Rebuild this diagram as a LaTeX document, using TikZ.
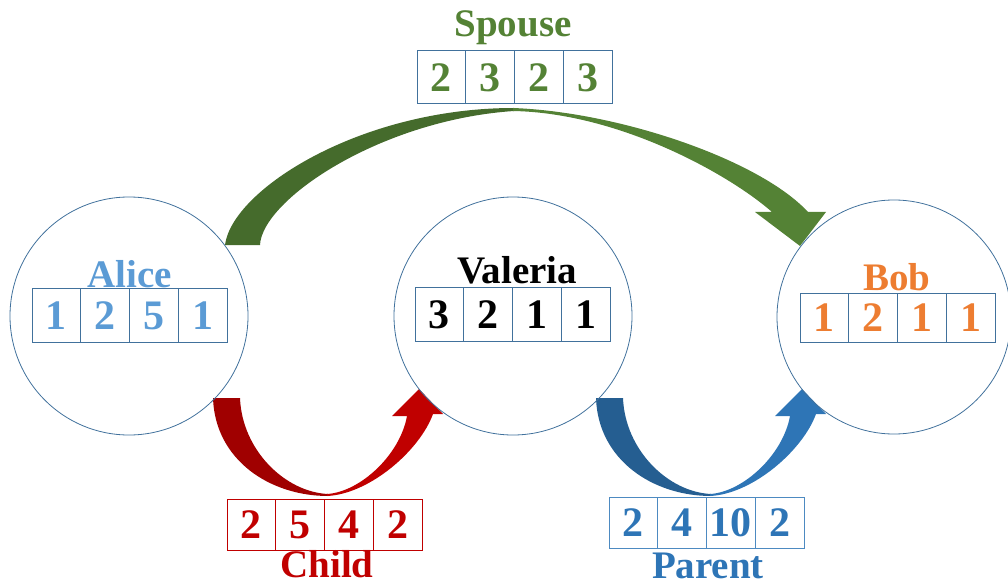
\documentclass[tikz,border=0pt]{standalone}
\usepackage{fontspec}
\setmainfont{Liberation Serif}
\usetikzlibrary{positioning}

\definecolor{outline}{HTML}{41719C}
\definecolor{alicecol}{HTML}{5B9BD5}
\definecolor{bobcol}{HTML}{ED7D31}
\definecolor{spousecol}{HTML}{548235}
\definecolor{spousedark}{HTML}{456B2C}
\definecolor{childcol}{HTML}{C00000}
\definecolor{childdark}{HTML}{A00000}
\definecolor{parentcol}{HTML}{2E75B6}
\definecolor{parentdark}{HTML}{255E91}

% curved block arrow under the circles, #1 = first half, #2 = second half
\newcommand{\bentarrow}[2]{%
  \fill[#1] (213,398) .. controls (215,460) and (270,496) .. (328,496) -- (328,494) .. controls (285,492) and (242,450) .. (240,398) -- cycle;
  \fill[#2] (327,496) .. controls (370,494) and (420,450) .. (433,414) -- (443,414) -- (419,389) -- (392,416) -- (407,416) .. controls (400,455) and (360,492) .. (327,494) -- cycle;
}

\begin{document}
\begin{tikzpicture}[x=1pt, y=-1pt,
    person/.style={circle, draw=outline, line width=0.8pt, inner sep=0},
    cell/.style={draw=outline, line width=1pt, minimum width=48.75pt, minimum height=54pt, inner sep=0, font=\bfseries\fontsize{42}{42}\selectfont},
    relname/.style={anchor=base, inner sep=0, font=\bfseries\fontsize{39}{39}\selectfont}]
        \useasboundingbox (0,0) rectangle (1008,585);

        % arrows
        \fill[spousedark] (225,245) .. controls (232,190) and (360,108) .. (514,108) -- (514,111) .. controls (380,120) and (262,200) .. (260,245) -- cycle;
        \fill[spousecol] (513,108) .. controls (620,112) and (760,160) .. (808,212) -- (826,212) -- (800,246) -- (755,212) -- (772,212) .. controls (730,175) and (620,113) .. (513,111) -- cycle;
        \bentarrow{childdark}{childcol}
        \begin{scope}[xshift=383pt]
          \bentarrow{parentdark}{parentcol}
        \end{scope}

        % people
        \node[person, minimum size=238pt] (alice) at (129,316) {};
        \node[person, minimum size=238pt] (valeria) at (513,316) {};
        \node[person, minimum size=234pt] (bob) at (894,317) {};

        \node[relname, text=alicecol] (alicename) at (130,287) {Alice};
        \node[relname] (valerianame) at (517,283) {Valeria};
        \node[relname, text=bobcol] (bobname) at (897,290) {Bob};
        \node[relname, text=spousecol] (spousename) at (513,37) {Spouse};
        \node[relname, text=childcol] (childname) at (327,577) {Child};
        \node[relname, text=parentcol] (parentname) at (708,578) {Parent};

        % vectors
        \foreach \v [count=\i] in {1,2,5,1}
          \node[cell, text=alicecol] (alice\i) at ({32+48.75*(\i-0.5)},315.5) {\v};
        \foreach \v [count=\i] in {3,2,1,1}
          \node[cell] (valeria\i) at ({415+48.75*(\i-0.5)},314.5) {\v};
        \foreach \v [count=\i] in {1,2,1,1}
          \node[cell, text=bobcol, minimum height=49pt] (bob\i) at ({800+48.75*(\i-0.5)},317.5) {\v};
        \foreach \v [count=\i] in {2,3,2,3}
          \node[cell, text=spousecol, minimum height=53pt] (spouse\i) at ({417+48.75*(\i-0.5)},77.5) {\v};
        \foreach \v [count=\i] in {2,5,4,2}
          \node[cell, draw=childcol, line width=0.8pt, text=childcol, minimum height=51pt] (child\i) at ({227+48.75*(\i-0.5)},524.5) {\v};
        \foreach \v [count=\i] in {2,4,10,2}
          \node[cell, draw=parentcol!85!white, text=parentcol, minimum height=51pt] (parent\i) at ({609+48.75*(\i-0.5)},522.5) {\v};

      \end{tikzpicture}
\end{document}
